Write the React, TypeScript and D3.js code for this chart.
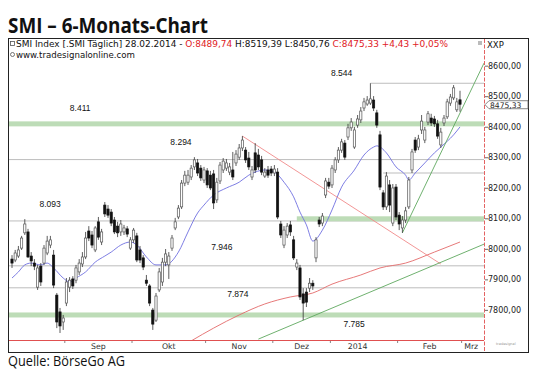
import React from "react";
import * as d3 from "d3";

// Daily OHLC, SMI index (Aug 2013 - 28 Feb 2014)
const opens = [
  7968, 7965, 7978, 8004, 8054, 8057, 7978, 7955, 7876, 7945,
  7955, 7988, 8014, 7981, 7850, 7795, 7762, 7824, 7876, 7903,
  7899, 7926, 7952, 7975, 8060, 8047, 7998, 8090, 8024, 8145,
  8132, 8122, 8096, 8076, 8057, 8057, 8067, 8004, 8031, 8044,
  7998, 7972, 7899, 7880, 7801, 7768, 7867, 7893, 7958, 7949,
  8004, 8070, 8106, 8139, 8217, 8220, 8237, 8270, 8283, 8266,
  8227, 8257, 8243, 8247, 8162, 8224, 8260, 8266, 8253, 8260,
  8283, 8302, 8332, 8325, 8299, 8237, 8316, 8309, 8293, 8240,
  8260, 8263, 8250, 8253, 8083, 8014, 8047, 8080, 8031, 7942,
  7939, 7854, 7860, 7873, 7889, 7972, 8096, 8086, 8178, 8220,
  8211, 8260, 8293, 8325, 8348, 8368, 8398, 8335, 8407, 8424,
  8463, 8476, 8479, 8489, 8447, 8375, 8185, 8139, 8211, 8086,
  8204, 8112, 8070, 8096, 8139, 8260, 8358, 8335, 8391, 8358,
  8417, 8430, 8427, 8411, 8342, 8414, 8434, 8479, 8496, 8457,
  8489.74,
];
const highs = [
  7981, 7998, 8011, 8044, 8099, 8067, 7991, 7968, 7949, 7955,
  8014, 8044, 8044, 7998, 7857, 7808, 7785, 7906, 7909, 7912,
  7949, 7968, 7991, 8057, 8076, 8060, 8076, 8106, 8067, 8155,
  8145, 8132, 8106, 8090, 8096, 8080, 8076, 8040, 8070, 8054,
  8011, 7981, 7916, 7886, 7808, 7857, 7939, 7972, 8001, 7991,
  8047, 8103, 8145, 8227, 8257, 8260, 8276, 8302, 8296, 8276,
  8270, 8266, 8257, 8260, 8234, 8286, 8299, 8296, 8283, 8319,
  8325, 8345, 8371, 8335, 8319, 8273, 8348, 8329, 8306, 8266,
  8273, 8273, 8276, 8266, 8093, 8076, 8086, 8093, 8044, 7968,
  7949, 7873, 7873, 7906, 7899, 8040, 8106, 8119, 8234, 8234,
  8276, 8302, 8335, 8362, 8358, 8411, 8430, 8401, 8440, 8466,
  8496, 8502, 8544, 8502, 8457, 8388, 8194, 8253, 8227, 8214,
  8214, 8122, 8109, 8139, 8237, 8329, 8368, 8375, 8440, 8401,
  8453, 8444, 8437, 8424, 8398, 8440, 8493, 8509, 8538, 8496,
  8519.39,
];
const lows = [
  7939, 7958, 7972, 7998, 8047, 7972, 7945, 7932, 7867, 7880,
  7949, 7981, 8004, 7873, 7742, 7726, 7736, 7814, 7860, 7870,
  7889, 7916, 7942, 7968, 8027, 8004, 7991, 8031, 8014, 8106,
  8103, 8076, 8050, 8040, 8044, 8047, 8040, 7998, 8021, 7958,
  7955, 7932, 7880, 7814, 7736, 7762, 7860, 7880, 7945, 7903,
  7995, 8063, 8099, 8132, 8207, 8211, 8227, 8260, 8240, 8224,
  8217, 8201, 8194, 8132, 8152, 8214, 8250, 8257, 8243, 8227,
  8273, 8293, 8322, 8283, 8260, 8227, 8250, 8260, 8243, 8234,
  8234, 8240, 8240, 8099, 8037, 8004, 8037, 8044, 7965, 7932,
  7834, 7768, 7811, 7860, 7867, 7958, 8073, 8076, 8168, 8198,
  8201, 8250, 8283, 8316, 8293, 8358, 8388, 8329, 8398, 8414,
  8453, 8470, 8473, 8453, 8398, 8194, 8129, 8129, 8122, 8076,
  8096, 8063, 8054, 8086, 8132, 8250, 8316, 8325, 8378, 8348,
  8407, 8404, 8401, 8362, 8332, 8404, 8427, 8470, 8489, 8450,
  8450.76,
];
const closes = [
  7955, 7988, 7998, 8037, 8083, 7975, 7962, 7945, 7939, 7893,
  8004, 8027, 8031, 7883, 7762, 7749, 7775, 7893, 7899, 7880,
  7939, 7955, 7975, 8037, 8037, 8014, 8070, 8040, 8057, 8116,
  8112, 8086, 8057, 8054, 8083, 8070, 8050, 8031, 8063, 7965,
  7965, 7942, 7889, 7824, 7755, 7847, 7926, 7958, 7985, 7978,
  8037, 8090, 8135, 8217, 8243, 8243, 8266, 8293, 8250, 8234,
  8260, 8211, 8201, 8152, 8220, 8276, 8289, 8283, 8270, 8237,
  8312, 8332, 8358, 8293, 8270, 8260, 8260, 8270, 8253, 8253,
  8243, 8250, 8263, 8106, 8047, 8063, 8076, 8057, 7972, 7955,
  7844, 7824, 7827, 7889, 7880, 8031, 8083, 8109, 8224, 8207,
  8266, 8293, 8325, 8352, 8302, 8398, 8417, 8391, 8427, 8453,
  8483, 8489, 8493, 8463, 8407, 8204, 8139, 8240, 8145, 8201,
  8106, 8083, 8096, 8126, 8227, 8319, 8325, 8362, 8420, 8391,
  8444, 8414, 8411, 8371, 8384, 8430, 8483, 8499, 8529, 8483,
  8475.33,
];

// short moving average (blue)
const maShortIdx = [0, 2, 4, 6, 9, 11, 13, 16, 18, 20, 23, 26, 29, 31, 34, 37, 39, 42, 45, 48, 52, 55, 58, 60, 63, 67, 71, 74, 76, 79, 82, 85, 88, 90, 92, 94, 97, 100, 103, 107, 110, 113, 114, 117, 120, 123, 124, 126, 129, 132, 134, 138, 140];
const maShortVal = [7906, 7926, 7949, 7955, 7949, 7955, 7939, 7906, 7893, 7906, 7926, 7958, 7978, 7991, 8014, 8024, 8014, 7975, 7949, 7949, 7991, 8057, 8119, 8145, 8178, 8201, 8220, 8243, 8253, 8260, 8253, 8220, 8172, 8122, 8080, 8027, 8063, 8129, 8204, 8260, 8309, 8335, 8339, 8316, 8270, 8243, 8227, 8250, 8283, 8316, 8335, 8375, 8401];
// long moving average (red)
const maLongIdx = [56, 63, 71, 79, 87, 94, 100, 109, 115, 123, 132, 140];
const maLongVal = [7700, 7742, 7785, 7821, 7844, 7857, 7886, 7916, 7939, 7955, 7991, 8024];

// trend lines [start idx, start value, end idx, end value]
const redTrend = [72, 8371, 134, 7952];
const greenTrendFlat = [77, 7706, 147.5, 8017];
const greenTrendSteep = [122, 8054, 147.5, 8610];
const greenZone8100 = [89, 8100, 147.5, 8100];

// horizontal levels
const levelValues = [8544, 8411, 8294, 8250, 8093, 7946, 7874, 7785];
const levelKinds = ["gray", "green", "gray", "gray", "gray", "gray", "gray", "green"];
const levelStartIdx = [112, -1, -1, 116, -1, -1, -1, -1];

const labelTexts = ["8.544", "8.411", "8.294", "8.093", "7.946", "7.874", "7.785"];
const labelValues = [8544, 8411, 8294, 8093, 7946, 7874, 7785];
const labelIdx = [103, 21.3, 52.8, 11.9, 65.6, 70.6, 106.9];
const labelDy = [-10, -15, -17, -16, -18, 7, 10];

const monthTickIdx = [16.5, 37.5, 60.5, 81.5, 99.5, 120.5, 140.5];
const monthLabels = ["Sep", "Okt", "Nov", "Dez", "2014", "Feb", "Mrz"];
const monthLabelIdx = [27, 49, 71, 90.5, 108, 130.5, 143.5];

const priceTicks = [7800, 7900, 8000, 8100, 8200, 8300, 8400, 8500, 8600];

export default function App() {
  const W = 540, H = 383;
  const L = 9, R = 484, T = 39, B = 340;
  const x = d3.scaleLinear().domain([0, 140]).range([12, 460]);
  const y = d3.scaleLinear().domain([7703, 8689]).range([B, T]);
  const bw = 2.2;
  const fmt = (v: number) => v.toFixed(2).replace(".", ",");
  const line = (idx: number[], vals: number[]) =>
    d3
      .line<number>()
      .x((_, k) => x(idx[k]))
      .y((v) => y(v))
      .curve(d3.curveMonotoneX)(vals) || "";
  const seg = (s: number[]) => ({ x1: x(s[0]), y1: y(s[1]), x2: x(s[2]), y2: y(s[3]) });
  const last = closes[closes.length - 1];
  const ly = y(last);
  const small = "DejaVu Sans, sans-serif";

  return (
    <svg
      width={W}
      height={H}
      style={{ position: "absolute", left: 0, top: 0, background: "#fff" }}
      fontFamily="Liberation Sans, Arial, sans-serif"
    >
      <defs>
        <clipPath id="plot">
          <rect x={L} y={T} width={R - L} height={B - T} />
        </clipPath>
      </defs>
      <rect x={0} y={0} width={W} height={H} fill="#fff" />
      <text x={8} y={33} fontFamily="Open Sans, sans-serif" fontWeight={700} fontSize={21} textLength={200} lengthAdjust="spacingAndGlyphs" fill="#111">
        SMI – 6-Monats-Chart
      </text>

      {/* frame */}
      <rect x={8.5} y={38.5} width={520} height={314} fill="#fff" stroke="#222" strokeWidth={1} />

      <g clipPath="url(#plot)">
        {levelValues.map((v, k) =>
          levelKinds[k] === "green" ? (
            <rect key={"lv" + k} x={levelStartIdx[k] < 0 ? L : x(levelStartIdx[k])} y={y(v) - 2.5} width={R - (levelStartIdx[k] < 0 ? L : x(levelStartIdx[k]))} height={5} fill="#bddcb7" />
          ) : (
            <line key={"lv" + k} x1={levelStartIdx[k] < 0 ? L : x(levelStartIdx[k])} x2={R} y1={y(v)} y2={y(v)} stroke="#bdbdbd" strokeWidth={1} />
          )
        )}
        <rect x={x(greenZone8100[0])} y={y(greenZone8100[1]) - 2.5} width={x(greenZone8100[2]) - x(greenZone8100[0])} height={5} fill="#bddcb7" />

        <path d={line(maLongIdx, maLongVal)} fill="none" stroke="#e36a6a" strokeWidth={0.9} />
        <path d={line(maShortIdx, maShortVal)} fill="none" stroke="#6f6fe0" strokeWidth={0.9} />
        <line {...seg(redTrend)} stroke="#f08a8a" strokeWidth={0.9} />
        <line {...seg(greenTrendFlat)} stroke="#5fa85f" strokeWidth={0.9} />
        <line {...seg(greenTrendSteep)} stroke="#5fa85f" strokeWidth={0.9} />

        {closes.map((c, i) => {
          const o = opens[i];
          const up = c >= o;
          const top = y(Math.max(o, c));
          const h = Math.max(1, Math.abs(y(o) - y(c)));
          const cx = x(i);
          return (
            <g key={"c" + i}>
              <line x1={cx} x2={cx} y1={y(highs[i])} y2={y(lows[i])} stroke="#333" strokeWidth={0.8} />
              <rect x={cx - bw / 2} y={top} width={bw} height={h} fill={up ? "#fff" : "#111"} stroke={up ? "#555" : "#111"} strokeWidth={0.7} />
            </g>
          );
        })}

        {labelTexts.map((t, k) => (
          <text key={"lb" + k} x={x(labelIdx[k])} y={y(labelValues[k]) + labelDy[k]} textAnchor="middle" dominantBaseline="middle" fontSize={8.5} fill="#111">
            {t}
          </text>
        ))}
      </g>

      {/* header text */}
      <rect x={10.5} y={41.5} width={4} height={4} fill="none" stroke="#555" strokeWidth={0.8} />
      <text x={16} y={47} fontSize={8.6} fontFamily={small} textLength={432} lengthAdjust="spacingAndGlyphs" fill="#111">
        <tspan>SMI Index [.SMI  Täglich] 28.02.2014 - </tspan>
        <tspan fill="#e0201e">O:{fmt(opens[opens.length - 1])}</tspan>
        <tspan> H:{fmt(highs[highs.length - 1])} L:{fmt(lows[lows.length - 1])} </tspan>
        <tspan fill="#e0201e">C:{fmt(last)} +4,43 +0,05%</tspan>
      </text>
      <circle cx={12.5} cy={54.5} r={2} fill="none" stroke="#555" strokeWidth={0.8} />
      <text x={16} y={57.5} fontSize={8.6} fontFamily={small} textLength={119} lengthAdjust="spacingAndGlyphs" fill="#111">
        www.tradesignalonline.com
      </text>
      <rect x={478} y={41} width={4} height={4} fill="#bbb" />
      <text x={487} y={48} fontSize={8.5} fontFamily={small} fill="#111">XXP</text>

      {/* right axis */}
      <line x1={R + 0.5} x2={R + 0.5} y1={T} y2={352} stroke="#e05050" strokeWidth={0.9} strokeDasharray="4,1.5" />
      {priceTicks.map((p) => (
        <g key={"pt" + p}>
          <line x1={R + 1} x2={R + 4} y1={y(p)} y2={y(p)} stroke="#444" strokeWidth={0.8} />
          <text x={488} y={y(p) + 2.6} fontSize={8} fontFamily={small} fill="#222">
            {fmt(p)}
          </text>
        </g>
      ))}
      <path d={`M${R + 1},${ly + 0.5} L${R + 5},${ly - 3.5} L${528},${ly - 3.5} L${528},${ly + 4.5} L${R + 5},${ly + 4.5} Z`} fill="#fff" stroke="#666" strokeWidth={0.8} />
      <text x={490} y={ly + 3.3} fontSize={7.6} fontFamily={small} fill="#222">
        {fmt(last)}
      </text>

      {/* bottom axis */}
      <line x1={L} x2={R} y1={B + 0.5} y2={B + 0.5} stroke="#e05050" strokeWidth={1} />
      {monthTickIdx.map((m, k) => (
        <line key={"mt" + k} x1={x(m)} x2={x(m)} y1={B + 1} y2={B + 3} stroke="#666" strokeWidth={0.8} />
      ))}
      {monthLabels.map((t, k) => (
        <text key={"ml" + k} x={x(monthLabelIdx[k])} y={349} textAnchor="middle" fontSize={7.8} fontFamily={small} fill="#333">
          {t}
        </text>
      ))}
      <text x={496} y={345} fontSize={3.5} fontFamily={small} fill="#999">tradesignal</text>

      <text x={8} y={366} fontFamily="Open Sans, sans-serif" fontSize={14} textLength={117} lengthAdjust="spacingAndGlyphs" fill="#111">
        Quelle: BörseGo AG
      </text>
    </svg>
  );
}
